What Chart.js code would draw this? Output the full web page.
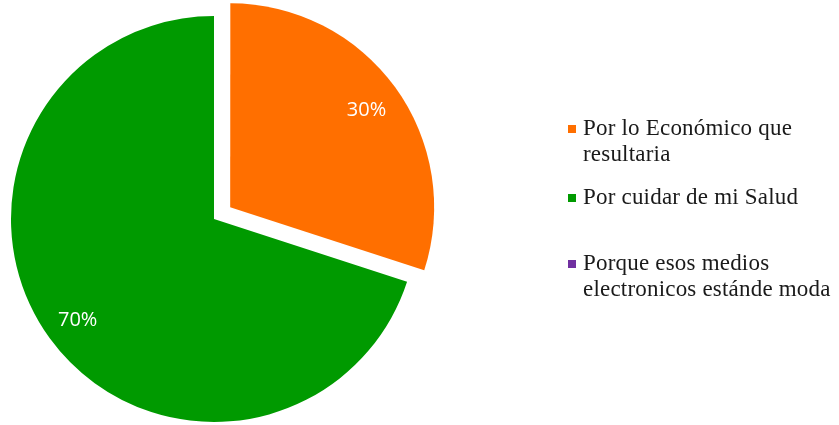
<!DOCTYPE html>
<html>
<head>
<meta charset="utf-8">
<script src="https://cdn.jsdelivr.net/npm/chart.js@4/dist/chart.umd.min.js"></script>
<style>
  html, body { margin: 0; padding: 0; background: #fff; }
  #wrap { position: relative; width: 839px; height: 425px; overflow: hidden; }
  #legend { position: absolute; left: 0; top: 0; }
  .item {
    position: absolute; left: 583px; width: 258px;
    font-family: "Liberation Serif", "Times New Roman", serif;
    font-size: 23px; line-height: 26px; letter-spacing: 0.2px; color: #1a1a1a;
  }
  .item i { position: absolute; left: -15px; top: 10px; width: 8px; height: 8px; }
</style>
</head>
<body>
<div id="wrap">
  <canvas id="pie"></canvas>
  <div id="legend"></div>
</div>
<script>
// respuestas (porcentaje)
const reasons = [
  "Por lo Económico que resultaria",
  "Por cuidar de mi Salud",
  "Porque esos medios electronicos estánde moda"
];
const shares = [30, 70, 0];
const colors = ["#ff6f00", "#009a00", "#7030a0"];

// leyenda en html, a la derecha
const legendTops = [115, 184, 250];
const legend = document.getElementById("legend");
reasons.forEach((txt, i) => {
  const div = document.createElement("div");
  div.className = "item";
  div.style.top = legendTops[i] + "px";
  div.innerHTML = '<i style="background:' + colors[i] + '"></i>' + txt;
  legend.appendChild(div);
});

// porcentajes dentro de cada porcion
const sliceLabels = {
  id: "sliceLabels",
  afterDatasetsDraw(chart) {
    const ctx = chart.ctx;
    const meta = chart.getDatasetMeta(0);
    const total = shares.reduce((a, b) => a + b, 0);
    ctx.save();
    ctx.font = '20px "Open Sans"';
    ctx.fillStyle = "#fff";
    ctx.textAlign = "center";
    ctx.textBaseline = "alphabetic";
    meta.data.forEach((arc, i) => {
      if (!shares[i]) return;
      const p = arc.getProps(["x", "y", "startAngle", "endAngle", "outerRadius"], true);
      const mid = (p.startAngle + p.endAngle) / 2;
      const shift = (arc.options.offset || 0) / 4;
      const r = p.outerRadius * 0.83 + shift;
      // centrar las cifras en el punto
      ctx.fillText(Math.round(shares[i] / total * 100) + "%",
        p.x + Math.cos(mid) * r, p.y + Math.sin(mid) * r + 7.5);
    });
    ctx.restore();
  }
};

function draw() {
  new Chart(document.getElementById("pie"), {
    type: "pie",
    data: {
      labels: reasons,
      datasets: [{
        data: shares,
        backgroundColor: colors,
        borderWidth: 0,
        offset: c => c.dataIndex === 0 ? 80 : 0,
        hoverOffset: 0
      }]
    },
    options: {
      responsive: true,
      maintainAspectRatio: false,
      animation: false,
      radius: 203,
      layout: { padding: { left: 0, right: 411, top: 13, bottom: 0 } },
      plugins: {
        legend: { display: false },
        tooltip: { enabled: false }
      }
    },
    plugins: [sliceLabels]
  });
}

document.getElementById("pie").parentElement.style.height = "425px";
document.fonts.load('20px "Open Sans"').then(draw, draw);
</script>
</body>
</html>
